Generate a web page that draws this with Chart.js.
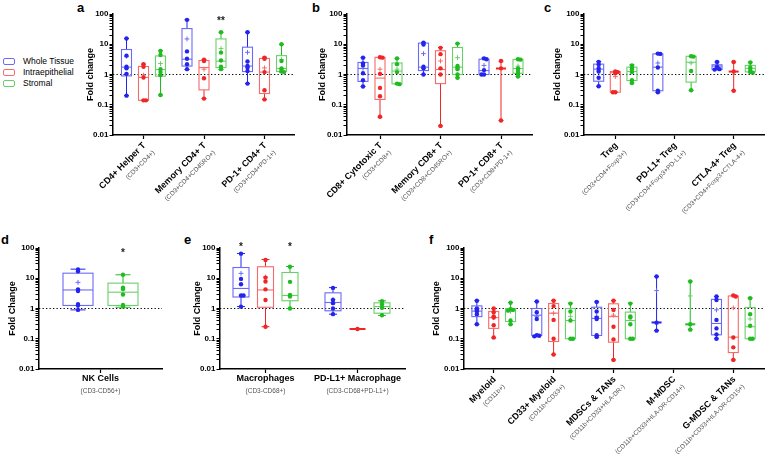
<!DOCTYPE html>
<html>
<head>
<meta charset="utf-8">
<script src="https://cdn.jsdelivr.net/npm/chart.js@4.4.1/dist/chart.umd.min.js"></script>
<style>
  body { margin: 0; background: #fff; width: 769px; height: 456px; position: relative; overflow: hidden;
         font-family: 'Liberation Sans', Arial, sans-serif; }
  canvas { position: absolute; left: 0; top: 0; }
  .letter { position: absolute; font-weight: bold; font-size: 13px; line-height: 13px; }
  .leg { position: absolute; left: 3px; font-size: 8.5px; line-height: 10px; }
  .leg span { display: inline-block; width: 10px; height: 5px; border: 1px solid; border-radius: 2px; margin-right: 8px; vertical-align: -1px; }
</style>
</head>
<body>
<div class="letter" style="left:77px;top:1px">a</div>
<div class="letter" style="left:312px;top:1px">b</div>
<div class="letter" style="left:544px;top:1px">c</div>
<div class="letter" style="left:1px;top:233px">d</div>
<div class="letter" style="left:184px;top:233px">e</div>
<div class="letter" style="left:429px;top:233px">f</div>
<div class="leg" style="top:56px"><span style="border-color:#6a6af7"></span>Whole Tissue</div>
<div class="leg" style="top:67px"><span style="border-color:#f76a6a"></span>Intraepithelial</div>
<div class="leg" style="top:78px"><span style="border-color:#6acf6a"></span>Stromal</div>
<script>
// axis ticks
const yTicks = [0.01, 0.1, 1, 10, 100];
const yTickLabels = ['0.01', '0.1', '1', '10', '100'];

const seriesNames = ['Whole Tissue', 'Intraepithelial', 'Stromal'];
const seriesColors = ['#2424f0', '#f02626', '#20bb20'];
const boxColors = ['#6a6af7', '#f76a6a', '#6acf6a'];

// box values: [min, q1, median, q3, max]
// panel a
const catsA = ['CD4+ Helper T', 'Memory CD4+ T', 'PD-1+ CD4+ T'];
const subsA = ['(CD3+CD4+)', '(CD3+CD4+CD45RO+)', '(CD3+CD4+PD-1+)'];
const aWholeBox = [[0.2, 0.9, 1.75, 6.7, 15.5], [1.46, 1.9, 3.2, 33, 64], [0.5, 1.25, 1.9, 8, 25]];
const aWholeMean = [4.0, 15, 5.4];
const aWholePts = [[15.5, 4.2, 1.8, 1.6, 1.05, 0.2], [64, 5.8, 3.3, 2.2, 1.5], [25, 2.7, 1.9, 1.7, 1.3, 0.5]];
const aIntraBox = [[0.14, 0.14, 0.8, 1.85, 2.2], [0.16, 0.31, 1.7, 2.9, 3.1], [0.15, 0.235, 1.2, 3.4, 3.7]];
const aIntraMean = [0.95, 1.5, 1.65];
const aIntraPts = [[2.2, 1.8, 0.8, 0.14, 0.14], [3.1, 2.8, 0.75, 0.16], [3.6, 3.3, 1.2, 0.3, 0.15]];
const aStromBox = [[0.21, 0.88, 1.46, 4.1, 6.2], [1.46, 1.7, 2.75, 15, 25], [1.2, 1.25, 1.58, 4.2, 10]];
const aStromMean = [2.3, 7.2, 3.1];
const aStromPts = [[6.0, 4.4, 1.5, 1.2, 0.95, 0.21], [25, 5.3, 2.9, 1.8, 1.5], [10, 2.8, 1.6, 1.4, 1.25, 1.2]];
const starsA = [[1, 2, '**']];

// panel b
const catsB = ['CD8+ Cytotoxic T', 'Memory CD8+ T', 'PD-1+ CD8+ T'];
const subsB = ['(CD3+CD8+)', '(CD3+CD8+CD45RO+)', '(CD3+CD8+PD-1+)'];
const bWholeBox = [[0.4, 0.59, 1.58, 2.5, 3.6], [1.0, 1.35, 1.75, 10.9, 11.4], [1.0, 1.0, 1.35, 3.2, 3.5]];
const bWholeMean = [1.6, 4.9, 2.0];
const bWholePts = [[3.6, 2.3, 2.0, 1.1, 0.65, 0.4], [11.2, 9.8, 1.8, 1.6, 1.0], [3.4, 3.2, 1.4, 1.0, 1.0]];
const bIntraBox = [[0.039, 0.15, 0.76, 3.7, 3.7], [0.02, 0.5, 1.46, 6.1, 7.8], [0.03, 1.55, 1.58, 1.62, 2.75]];
const bIntraMean = [1.5, 2.8, null];
const bIntraPts = [[3.7, 3.6, 1.05, 0.36, 0.19, 0.04], [7.6, 4.7, 1.6, 1.0, 0.02], [2.8, 1.6, 0.03]];
const bStromBox = [[0.48, 0.49, 1.3, 2.4, 3.4], [0.78, 1.0, 1.75, 7.8, 10.6], [0.86, 1.1, 1.58, 3.15, 3.2]];
const bStromMean = [1.5, 3.6, 1.9];
const bStromPts = [[3.4, 2.2, 1.2, 0.5, 0.48], [10.5, 1.9, 1.7, 1.5, 1.0, 0.78], [3.2, 3.1, 1.6, 1.3, 1.1, 0.86]];

// panel c
const catsC = ['Treg', 'PD-L1+ Treg', 'CTLA-4+ Treg'];
const subsC = ['(CD3+CD4+Foxp3+)', '(CD3+CD4+Foxp3+PD-L1+)', '(CD3+CD4+Foxp3+CTLA-4+)'];
const cWholeBox = [[0.41, 0.6, 1.5, 2.2, 2.7], [0.26, 0.29, 1.75, 4.8, 4.9], [1.46, 1.46, 1.9, 2.1, 2.6]];
const cWholeMean = [1.4, 2.4, 1.85];
const cWholePts = [[2.6, 2.1, 1.6, 1.25, 0.78, 0.41], [4.9, 4.8, 1.7, 0.29, 0.26], [2.6, 1.8, 1.6, 1.5, 1.45]];
const cIntraBox = [[0.26, 0.26, 1.15, 1.25, 1.29], null, [0.29, 1.22, 1.25, 1.28, 2.6]];
const cIntraMean = [0.85, null, null];
const cIntraPts = [[1.25, 1.2, 1.1, 0.26, 0.26], null, [2.6, 1.25, 0.29]];
const cStromBox = [[0.52, 0.63, 1.26, 1.75, 2.1], [0.3, 0.56, 2.55, 4.0, 4.0], [1.17, 1.22, 1.6, 2.0, 2.55]];
const cStromMean = [1.2, 2.4, 1.6];
const cStromPts = [[2.0, 1.7, 1.5, 1.2, 0.65, 0.52], [4.0, 3.9, 1.3, 0.3], [2.5, 1.7, 1.4, 1.2, 1.15]];

// panel d
const catsD = ['NK Cells'];
const subsD = ['(CD3-CD56+)'];
const dWholeBox = [[0.9, 1.26, 4.1, 14.7, 20]];
const dWholeMean = [7.3];
const dWholePts = [[19.5, 17, 4.3, 3.8, 1.4, 1.25, 0.9]];
const dStromBox = [[1.1, 1.26, 3.46, 6.9, 13]];
const dStromMean = [4.4];
const dStromPts = [[13, 4.9, 4.4, 2.9, 1.3, 1.15]];
const starsD = [[0, 2, '*']];

// panel e
const catsE = ['Macrophages', 'PD-L1+ Macrophage'];
const subsE = ['(CD3-CD68+)', '(CD3-CD68+PD-L1+)'];
const eWholeBox = [[1.16, 2.4, 4.6, 22.6, 66], [0.65, 0.84, 1.58, 3.3, 4.9]];
const eWholeMean = [14.5, 2.0];
const eWholePts = [[65, 9.5, 6.3, 2.7, 2.7, 1.15], [4.8, 1.9, 1.5, 1.0, 0.65]];
const eIntraBox = [[0.25, 1.1, 4.1, 24, 41.7], [0.21, 0.21, 0.21, 0.21, 0.21]];
const eIntraMean = [11, null];
const eIntraPts = [[40, 10.5, 7.8, 4.3, 1.9, 0.25], [0.21]];
const eStromBox = [[1.0, 1.8, 2.7, 15.5, 24.5], [0.59, 0.7, 1.16, 1.54, 1.8]];
const eStromMean = [null, 1.15];
const eStromPts = [[24, 7.6, 2.8, 2.5, 1.0], [1.75, 1.35, 1.05, 0.6]];
const starsE = [[0, 0, '*'], [0, 2, '*']];

// panel f
const catsF = ['Myeloid', 'CD33+ Myeloid', 'MDSCs & TANs', 'M-MDSC', 'G-MDSC & TANs'];
const subsF = ['(CD11b+)', '(CD11b+CD33+)', '(CD11b+CD33+HLA-DR-)', '(CD11b+CD33+HLA-DR-CD14+)', '(CD11b+CD33+HLA-DR-CD15+)'];
const fWholeBox = [[0.3, 0.54, 0.82, 1.22, 1.84], [0.12, 0.128, 0.6, 1.0, 1.7], [0.113, 0.128, 0.47, 1.1, 1.66],
                   [0.187, 0.33, 0.345, 0.36, 11.4], [0.1, 0.135, 0.32, 2.0, 2.5]];
const fWholeMean = [0.9, 0.55, 0.55, 3.9, 0.9];
const fWholePts = [[1.8, 1.0, 0.9, 0.8, 0.65, 0.3], [1.7, 0.75, 0.45, 0.13, 0.125, 0.12], [1.65, 0.8, 0.5, 0.45, 0.13, 0.115],
                   [11.4, 0.34, 0.185], [2.5, 1.9, 0.42, 0.22, 0.14, 0.1]];
const fIntraBox = [[0.107, 0.22, 0.5, 0.8, 1.0], [0.03, 0.081, 0.7, 1.46, 1.84], [0.02, 0.077, 0.54, 1.43, 1.84],
                   null, [0.02, 0.035, 0.113, 2.6, 2.75]];
const fIntraMean = [0.5, 0.7, 0.6, null, 1.05];
const fIntraPts = [[1.0, 0.75, 0.55, 0.5, 0.28, 0.11], [1.8, 1.2, 0.42, 0.1, 0.03], [1.8, 0.9, 0.25, 0.095, 0.02],
                   null, [2.7, 2.5, 0.11, 0.052, 0.02]];
const fStromBox = [[0.3, 0.37, 0.9, 1.0, 1.58], [0.1, 0.1, 0.4, 1.0, 1.5], [0.1, 0.1, 0.4, 0.76, 1.5],
                   [0.2, 0.29, 0.3, 0.31, 8], [0.1, 0.1, 0.25, 1.08, 2.25]];
const fStromMean = [0.8, 0.55, null, 2.6, 0.45];
const fStromPts = [[1.55, 0.95, 0.9, 0.85, 0.4, 0.3], [1.45, 0.8, 0.4, 0.1, 0.1], [1.45, 0.55, 0.5, 0.3, 0.1, 0.1],
                   [7.8, 0.3, 0.2], [2.2, 0.65, 0.27, 0.1, 0.1]];

const FONT = "'Liberation Sans', Arial, sans-serif";
Chart.defaults.font.family = FONT;
Chart.defaults.color = '#000';

const panels = [
  { cats: catsA, subs: subsA, stars: starsA, yTitle: 'Fold change', rotate: true,
    series: [{ box: aWholeBox, mean: aWholeMean, pts: aWholePts }, { box: aIntraBox, mean: aIntraMean, pts: aIntraPts }, { box: aStromBox, mean: aStromMean, pts: aStromPts }],
    left: 113, right: 294, top: 14, bottom: 135, firstTick: 143.5, ppc: 60.5, offPx: 17, boxW: 10, yW: 28, starDy: 7 },
  { cats: catsB, subs: subsB, stars: [], yTitle: 'Fold change', rotate: true,
    series: [{ box: bWholeBox, mean: bWholeMean, pts: bWholePts }, { box: bIntraBox, mean: bIntraMean, pts: bIntraPts }, { box: bStromBox, mean: bStromMean, pts: bStromPts }],
    left: 347, right: 532, top: 14, bottom: 135, firstTick: 380, ppc: 60.5, offPx: 17, boxW: 10, yW: 30, starDy: 7 },
  { cats: catsC, subs: subsC, stars: [], yTitle: 'Fold change', rotate: true,
    series: [{ box: cWholeBox, mean: cWholeMean, pts: cWholePts }, { box: cIntraBox, mean: cIntraMean, pts: cIntraPts }, { box: cStromBox, mean: cStromMean, pts: cStromPts }],
    left: 584, right: 768, top: 14, bottom: 135, firstTick: 616, ppc: 60.5, offPx: 17, boxW: 10, yW: 32, starDy: 7 },
  { cats: catsD, subs: subsD, stars: starsD, yTitle: 'Fold Change', rotate: false,
    series: [{ box: dWholeBox, mean: dWholeMean, pts: dWholePts }, null, { box: dStromBox, mean: dStromMean, pts: dStromPts }],
    left: 39, right: 162, top: 248, bottom: 369, firstTick: 100.5, ppc: 92, offPx: 22.5, boxW: 30, yW: 32, starDy: 5 },
  { cats: catsE, subs: subsE, stars: starsE, yTitle: 'Fold Change', rotate: false,
    series: [{ box: eWholeBox, mean: eWholeMean, pts: eWholePts }, { box: eIntraBox, mean: eIntraMean, pts: eIntraPts }, { box: eStromBox, mean: eStromMean, pts: eStromPts }],
    left: 220, right: 405, top: 248, bottom: 369, firstTick: 265.5, ppc: 92, offPx: 24.5, boxW: 16, yW: 28, starDy: -1 },
  { cats: catsF, subs: subsF, stars: [], yTitle: 'Fold Change', rotate: true,
    series: [{ box: fWholeBox, mean: fWholeMean, pts: fWholePts }, { box: fIntraBox, mean: fIntraMean, pts: fIntraPts }, { box: fStromBox, mean: fStromMean, pts: fStromPts }],
    left: 464, right: 767, top: 248, bottom: 369, firstTick: 494, ppc: 60.5, offPx: 17, boxW: 10, yW: 33, starDy: 7 }
];

function isMajor(v) {
  return yTicks.findIndex(t => Math.abs(t - v) / t < 1e-6);
}

function makePanel(p) {
  const cv = document.createElement('canvas');
  cv.width = 769;
  cv.height = 456;
  document.body.appendChild(cv);

  const xMin = -(p.firstTick - p.left) / p.ppc;
  const xMax = (p.right - p.firstTick) / p.ppc;
  const off = p.offPx / p.ppc;
  const spread = 2.5 / p.ppc;

  const datasets = [];
  p.series.forEach((s, si) => {
    if (!s) return;
    const dx = (si - 1) * off;
    const pts = [];
    s.pts.forEach((arr, ci) => {
      if (!arr) return;
      // nudge near-equal values apart so both dots show
      let prev = null, side = 1;
      arr.forEach(v => {
        let sx = 0;
        if (prev !== null && Math.abs(Math.log10(v) - Math.log10(prev)) < 0.035) {
          sx = side * spread;
          side = -side;
        }
        pts.push({ x: ci + dx + sx, y: v });
        prev = v;
      });
    });
    datasets.push({ label: seriesNames[si], data: pts, backgroundColor: seriesColors[si],
      borderColor: seriesColors[si], pointRadius: 2.2, pointBorderWidth: 0 });
    const means = [];
    s.mean.forEach((m, ci) => { if (m != null) means.push({ x: ci + dx, y: m }); });
    datasets.push({ label: seriesNames[si] + ' mean', data: means, pointStyle: 'cross',
      pointRadius: 2.4, borderColor: boxColors[si], borderWidth: 1 });
  });

  const boxPlugin = {
    id: 'boxes',
    beforeDatasetsDraw(chart) {
      const { ctx, chartArea, scales: { x, y } } = chart;
      // reference line at fold change 1
      ctx.save();
      ctx.strokeStyle = '#000';
      ctx.lineWidth = 1.2;
      ctx.setLineDash([1.3, 2.2]);
      const y1 = y.getPixelForValue(1);
      ctx.beginPath();
      ctx.moveTo(chartArea.left, y1);
      ctx.lineTo(chartArea.right, y1);
      ctx.stroke();
      ctx.setLineDash([]);

      const hw = p.boxW / 2, cw = p.boxW * 0.25;
      p.series.forEach((s, si) => {
        if (!s) return;
        const dx = (si - 1) * off;
        s.box.forEach((b, ci) => {
          if (!b) return;
          const cx = x.getPixelForValue(ci + dx);
          const [mn, q1, md, q3, mx] = b.map(v => y.getPixelForValue(v));
          ctx.lineWidth = 1;
          ctx.strokeStyle = seriesColors[si];
          ctx.beginPath();
          ctx.moveTo(cx, q3); ctx.lineTo(cx, mx);
          ctx.moveTo(cx - cw, mx); ctx.lineTo(cx + cw, mx);
          ctx.moveTo(cx, q1); ctx.lineTo(cx, mn);
          ctx.moveTo(cx - cw, mn); ctx.lineTo(cx + cw, mn);
          ctx.stroke();
          ctx.strokeStyle = boxColors[si];
          ctx.lineWidth = 1.1;
          if (q1 - q3 < 2) {
            ctx.strokeStyle = seriesColors[si];
            ctx.lineWidth = 2;
            ctx.beginPath();
            ctx.moveTo(cx - hw, md); ctx.lineTo(cx + hw, md);
            ctx.stroke();
          } else {
            ctx.strokeRect(cx - hw, q3, p.boxW, q1 - q3);
            ctx.beginPath();
            ctx.moveTo(cx - hw, md); ctx.lineTo(cx + hw, md);
            ctx.stroke();
          }
        });
      });
      ctx.restore();
    },
    afterDraw(chart) {
      const { ctx, chartArea, scales: { x, y } } = chart;
      ctx.save();
      ctx.fillStyle = '#000';
      p.cats.forEach((c, ci) => {
        const tx = x.getPixelForValue(ci);
        if (p.rotate) {
          ctx.save();
          ctx.translate(tx + 1, chartArea.bottom + 9);
          ctx.rotate(-Math.PI / 4);
          ctx.textAlign = 'right';
          ctx.textBaseline = 'middle';
          ctx.fillStyle = '#000';
          ctx.font = 'bold 9px ' + FONT;
          ctx.fillText(c, 0, 0);
          ctx.fillStyle = '#555';
          ctx.font = '6.5px ' + FONT;
          ctx.fillText(p.subs[ci], 1, 12);
          ctx.restore();
        } else {
          ctx.textAlign = 'center';
          ctx.textBaseline = 'middle';
          ctx.fillStyle = '#000';
          ctx.font = 'bold 9px ' + FONT;
          ctx.fillText(c, tx, chartArea.bottom + 10);
          ctx.fillStyle = '#555';
          ctx.font = '6.5px ' + FONT;
          ctx.fillText(p.subs[ci], tx, chartArea.bottom + 22);
        }
      });
      ctx.fillStyle = '#222';
      ctx.font = 'bold 10px ' + FONT;
      ctx.textAlign = 'center';
      ctx.textBaseline = 'middle';
      p.stars.forEach(([ci, si, txt]) => {
        const cx = x.getPixelForValue(ci + (si - 1) * off);
        ctx.fillText(txt, cx, chartArea.top + p.starDy);
      });
      ctx.restore();
    }
  };

  new Chart(cv, {
    type: 'scatter',
    data: { datasets },
    options: {
      responsive: false,
      animation: false,
      events: [],
      layout: { padding: { left: p.left - p.yW, right: 769 - p.right, top: p.top, bottom: 456 - p.bottom - 5 } },
      plugins: { legend: { display: false }, tooltip: { enabled: false } },
      scales: {
        x: {
          type: 'linear', min: xMin, max: xMax,
          afterBuildTicks: s => { s.ticks = p.cats.map((c, i) => ({ value: i })); },
          afterFit: s => { s.height = 5; },
          ticks: { display: false },
          grid: { drawOnChartArea: false, drawTicks: true, tickLength: 4, color: '#000', tickWidth: 1.2 },
          border: { display: true, color: '#000', width: 1.5 }
        },
        y: {
          type: 'logarithmic', min: yTicks[0], max: yTicks[yTicks.length - 1],
          afterBuildTicks: s => {
            const t = [];
            for (let i = 0; i < yTicks.length - 1; i++) {
              for (let m = 1; m < 10; m++) t.push({ value: yTicks[i] * m, major: m === 1 });
            }
            t.push({ value: yTicks[yTicks.length - 1], major: true });
            s.ticks = t;
          },
          afterFit: s => { s.width = p.yW; },
          ticks: {
            autoSkip: false, padding: 1, color: '#000',
            font: { size: 8, weight: 'bold' },
            callback: v => { const i = isMajor(v); return i >= 0 ? yTickLabels[i] : ''; }
          },
          grid: { drawOnChartArea: false, drawTicks: true, tickLength: 3.5, color: '#000', tickWidth: 1 },
          border: { display: true, color: '#000', width: 1.5 },
          title: { display: true, text: p.yTitle, color: '#000', padding: 0, font: { size: 9, weight: 'bold' } }
        }
      }
    },
    plugins: [boxPlugin]
  });
}

panels.forEach(makePanel);
</script>
</body>
</html>
